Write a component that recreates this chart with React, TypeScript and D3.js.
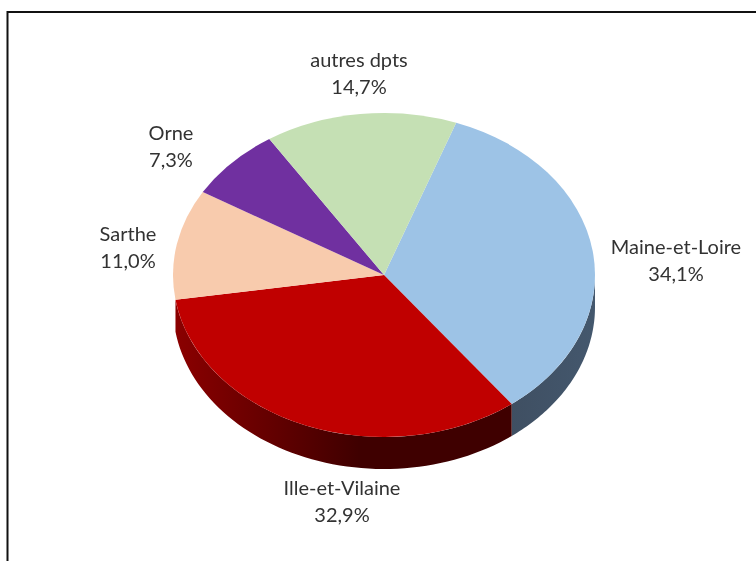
import React from "react";
import * as d3 from "d3";

const categories = ["Maine-et-Loire", "Ille-et-Vilaine", "Sarthe", "Orne", "autres dpts"];
const values = [34.1, 32.9, 11.0, 7.3, 14.7];
const percentLabels = ["34,1%", "32,9%", "11,0%", "7,3%", "14,7%"];
const topColors = ["#9dc3e6", "#c00000", "#f8cbad", "#7030a0", "#c5e0b4"];
const sideStops = [["#44586e", "#3f4f62"], ["#8b0000", "#3f0000"]];
const labelX = [676, 342, 128, 171, 359];
const labelY = [254, 495, 241, 140, 67];

const W = 756, H = 561;
const cx = 384, cy = 275, rx = 211, ry = 162, depth = 32;
const deg = Math.PI / 180;

export default function App() {
  const pie = d3.pie<number>().sort(null).startAngle(20 * deg).endAngle(380 * deg);
  const arcs = pie(values);
  const arc = d3.arc<d3.PieArcDatum<number>>().innerRadius(0).outerRadius(rx);
  const px = (a: number) => cx + rx * Math.sin(a);
  const py = (a: number) => cy - ry * Math.cos(a);
  const side = (s: number, e: number) => {
    const lo = Math.max(s, 90 * deg), hi = Math.min(e, 270 * deg);
    if (lo >= hi) return null;
    const ang = d3.range(0, 61).map((i) => lo + ((hi - lo) * i) / 60);
    const line = d3.line<[number, number]>().x((d) => d[0]).y((d) => d[1]);
    const top = ang.map((a) => [px(a), py(a)] as [number, number]);
    const bot = ang.slice().reverse().map((a) => [px(a), py(a) + depth] as [number, number]);
    return line([...top, ...bot]) + "Z";
  };
  return (
    <svg width={W} height={H} viewBox={`0 0 ${W} ${H}`}
      style={{ position: "absolute", left: 0, top: 0, background: "#fff" }}>
      <defs>
        {sideStops.map((st, i) => (
          <linearGradient key={i} id={`side${i}`} gradientUnits="userSpaceOnUse"
            x1={i === 0 ? 600 : 175} x2={510} y1={0} y2={0}>
            <stop offset="0" stopColor={st[0]} />
            <stop offset={i === 1 ? 0.55 : 1} stopColor={st[1]} />
            <stop offset="1" stopColor={st[1]} />
          </linearGradient>
        ))}
        <filter id="soft" x="-5%" y="-5%" width="110%" height="110%">
          <feGaussianBlur stdDeviation="0.45" />
        </filter>
      </defs>
      <rect x={7.5} y={12} width={W} height={H} fill="#fff" stroke="#111" strokeWidth={2} />
      {sideStops.map((_, i) => {
        const d = side(arcs[i].startAngle, arcs[i].endAngle);
        return d ? <path key={i} d={d} fill={`url(#side${i})`} /> : null;
      })}
      <g transform={`translate(${cx},${cy}) scale(1,${ry / rx})`}>
        {arcs.map((a, i) => (
          <path key={i} d={arc(a) ?? ""} fill={topColors[i]} />
        ))}
      </g>
      <g fontFamily="Lato, 'Open Sans', sans-serif" fontSize={20} fill="#333" textAnchor="middle" filter="url(#soft)">
        {categories.map((c, i) => (
          <text key={c} x={labelX[i]} y={labelY[i]}>
            <tspan x={labelX[i]}>{c}</tspan>
            <tspan x={labelX[i]} dy={27}>{percentLabels[i]}</tspan>
          </text>
        ))}
      </g>
    </svg>
  );
}
